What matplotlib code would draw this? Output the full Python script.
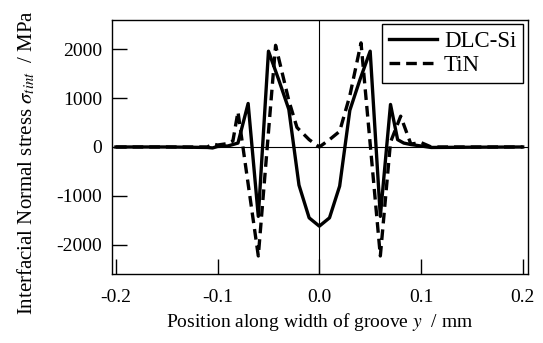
import matplotlib as mpl
mpl.use('Agg')
import matplotlib.pyplot as plt

mpl.rc('font', family='Liberation Serif', size=14)
mpl.rc('mathtext', fontset='stix')

# DLC-Si (solid)
x_dlc = [-0.2, -0.15, -0.11, -0.105, -0.1, -0.09, -0.08, -0.07, -0.06, -0.05, -0.04, -0.03, -0.02, -0.01, 0.0,
         0.01, 0.02, 0.03, 0.04, 0.05, 0.06, 0.07, 0.077, 0.083, 0.09, 0.1, 0.11, 0.15, 0.2]
s_dlc = [0, 0, -10, -20, 10, 20, 80, 890, -1420, 1960, 1380, 770, -780, -1450, -1620,
         -1450, -800, 750, 1380, 1960, -1420, 870, 150, 80, 50, 20, -10, -5, 0]

# TiN (dashed)
x_tin = [-0.2, -0.15, -0.11, -0.105, -0.1, -0.09, -0.085, -0.08, -0.06, -0.043, -0.03, -0.022, -0.01, 0.0,
         0.01, 0.02, 0.03, 0.041, 0.06, 0.07, 0.08, 0.09, 0.1, 0.11, 0.15, 0.2]
s_tin = [0, 0, 0, 60, 40, 70, 120, 720, -2230, 2080, 950, 400, 150, 0,
         150, 320, 1050, 2130, -2230, 100, 630, 60, 90, 0, 0, 0]

fig = plt.figure(figsize=(5.43, 3.43), dpi=100)
ax = fig.add_axes([0.206, 0.201, 0.766, 0.741])
ax.axhline(0, color='k', lw=0.8)
ax.axvline(0, color='k', lw=0.8)
ax.plot(x_dlc, s_dlc, 'k-', lw=2.4, label='DLC-Si')
ax.plot(x_tin, s_tin, 'k--', lw=2.4, dashes=(3.2, 1.8), label='TiN')
ax.set_xlim(-0.204, 0.205)
ax.set_ylim(-2600, 2600)
ax.set_xticks([-0.2, -0.1, 0.0, 0.1, 0.2])
ax.set_xticklabels(['-0.2', '-0.1', '0.0', '0.1', '0.2'])
ax.set_yticks([-2000, -1000, 0, 1000, 2000])
ax.set_yticklabels(['-2000', '-1000', '0', '1000', '2000'])
ax.tick_params(direction='in', length=11, width=1)
ax.tick_params(axis='x', pad=11)
ax.tick_params(axis='y', pad=7)
for sp in ax.spines.values():
    sp.set_linewidth(1)
ax.set_xlabel('Position along width of groove $y$  / mm', fontsize=14, labelpad=3)
ax.set_ylabel(r'Interfacial Normal stress $\sigma_{tint}$  / MPa', fontsize=15)
ax.yaxis.set_label_coords(-0.18, 0.44)
leg = ax.legend(loc='upper right', fancybox=False, edgecolor='k', framealpha=1,
                handlelength=2.1, handletextpad=0.3, borderaxespad=0.2, borderpad=0.3,
                fontsize=16.5, labelspacing=0.1)
leg.get_frame().set_linewidth(1)
plt.savefig('out.png')
plt.close()
